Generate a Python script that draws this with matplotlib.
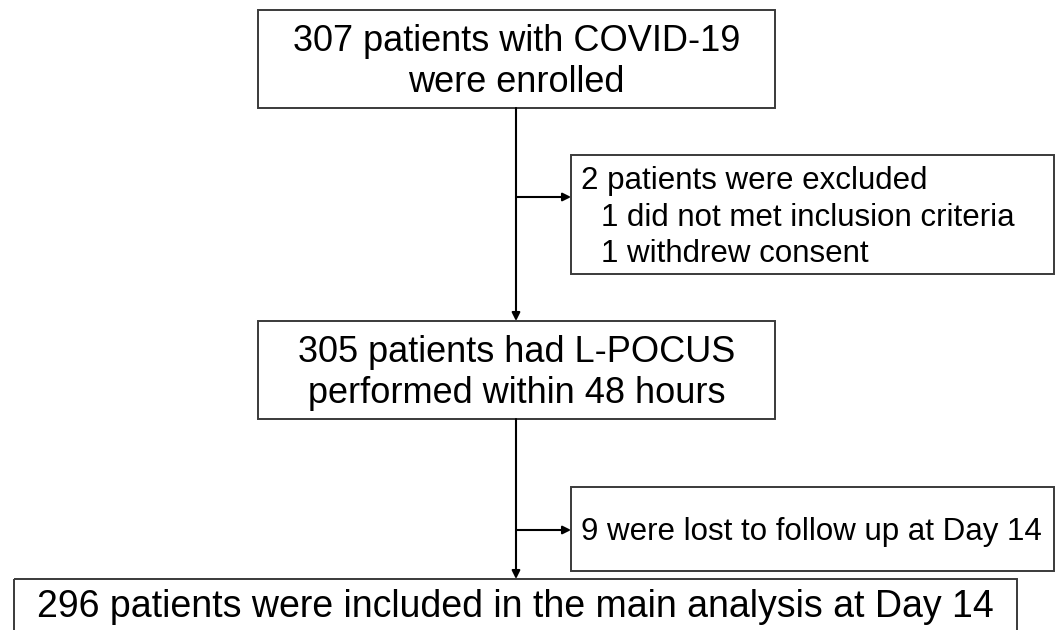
import matplotlib
matplotlib.use("Agg")
import matplotlib.pyplot as plt
from matplotlib.patches import Rectangle

plt.rcParams["font.family"] = ["Liberation Sans", "DejaVu Sans"]

# flow boxes (main column) and side boxes (exclusions)
MAIN_TEXT = [
    ["307 patients with COVID-19", "were enrolled"],
    ["305 patients had L-POCUS", "performed within 48 hours"],
    ["296 patients were included in the main analysis at Day 14"],
]
SIDE_TEXT = [
    ["2 patients were excluded", "1 did not met inclusion criteria", "1 withdrew consent"],
    ["9 were lost to follow up at Day 14"],
]
SIDE_INDENT = [[0, 1, 1], [0]]

# layout in pixel coords (x0, y0, x1, y1)
MAIN_BOX = [(258, 10, 775, 108), (258, 321, 775, 419), (14, 579, 1017, 640)]
MAIN_FS = [26, 26, 27]
SIDE_BOX = [(571, 155, 1054, 274), (571, 487, 1054, 571)]
SIDE_ARROW_Y = [197, 530]
STEM_X = 516

W, H = 1060, 630
fig = plt.figure(figsize=(W / 100, H / 100), dpi=100)
ax = fig.add_axes([0, 0, 1, 1])
ax.set_xlim(0, W)
ax.set_ylim(H, 0)
ax.axis("off")

box_kw = dict(fill=False, edgecolor="#3a3a3a", lw=1.4)
arrow_kw = dict(arrowstyle="-|>", color="black", lw=1.5, mutation_scale=12,
                shrinkA=0, shrinkB=0)

for (x0, y0, x1, y1), lines, fs in zip(MAIN_BOX, MAIN_TEXT, MAIN_FS):
    ax.add_patch(Rectangle((x0, y0), x1 - x0, y1 - y0, **box_kw))
    cy = (y0 + y1) / 2 + 3 if len(lines) > 1 else 607
    ax.text((x0 + x1) / 2, cy, "\n".join(lines), ha="center", va="center",
            fontsize=fs, linespacing=1.25, color="black")

for (x0, y0, x1, y1), lines, ind in zip(SIDE_BOX, SIDE_TEXT, SIDE_INDENT):
    ax.add_patch(Rectangle((x0, y0), x1 - x0, y1 - y0, **box_kw))
    n = len(lines)
    step = 36
    cy = (y0 + y1) / 2 + 3
    for i, (t, k) in enumerate(zip(lines, ind)):
        ax.text(x0 + 10 + 20 * k, cy + (i - (n - 1) / 2) * step, t,
                ha="left", va="center", fontsize=22.5, color="black")

# vertical stems with arrows into next main box
for (a, b) in zip(MAIN_BOX[:-1], MAIN_BOX[1:]):
    ax.annotate("", xy=(STEM_X, b[1]), xytext=(STEM_X, a[3]), arrowprops=arrow_kw)

# side arrows
for y, sb in zip(SIDE_ARROW_Y, SIDE_BOX):
    ax.annotate("", xy=(sb[0], y), xytext=(STEM_X, y), arrowprops=arrow_kw)

fig.savefig("out.png", dpi=100, facecolor="white")
